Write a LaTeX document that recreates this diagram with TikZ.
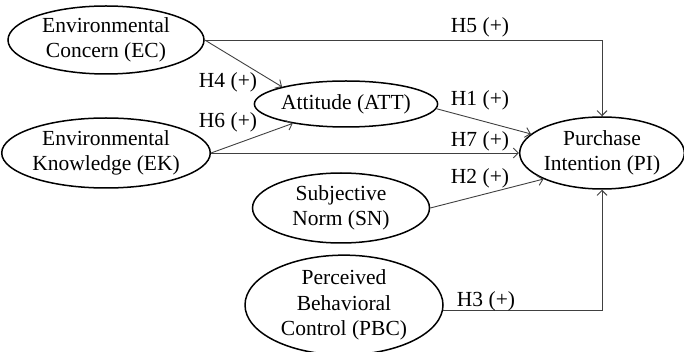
\documentclass[tikz,border=0pt]{standalone}
\usepackage{fontspec}
\setmainfont{Liberation Serif}
\usetikzlibrary{shapes.geometric,arrows.meta}
\tikzset{
  construct/.style={ellipse, draw=black, line width=1.5pt, inner sep=0pt, align=center, font=\fontsize{21.5}{25.5}\selectfont},
  hyp/.style={inner sep=0pt, font=\fontsize{21.5}{25.5}\selectfont},
  path/.style={draw=black!75, line width=0.9pt, -{Straight Barb[length=5pt,width=10pt]}}
}
\begin{document}
\begin{tikzpicture}[x=1pt,y=-1pt]
\useasboundingbox (0,0) rectangle (684,352);
\node[construct, minimum width=196pt, minimum height=68pt] (EC) at (106,40) {Environmental\\Concern (EC)};
\node[construct, minimum width=196pt, minimum height=70pt] (EK) at (106,153) {Environmental\\Knowledge (EK)};
\node[construct, minimum width=152pt, minimum height=46pt] (ATT) at (346,104) {Attitude (ATT)};
\node[construct, minimum width=162pt, minimum height=72pt] (PI) at (602,153) {Purchase\\Intention (PI)};
\node[construct, minimum width=177pt, minimum height=70pt] (SN) at (341,208) {Subjective\\Norm (SN)};
\node[construct, minimum width=198pt, minimum height=92pt] (PBC) at (344,305) {Perceived\\Behavioral\\Control (PBC)};

\draw[path] (EC.east) -| (PI.north);
\draw[path] (EC.east) -- (ATT.165);
\draw[path] (EK.east) -- (ATT.200);
\draw[path] (EK.east) -- (PI.west);
\draw[path] (ATT.-3) -- (PI.165);
\draw[path] (SN.east) -- (PI.204);
\draw[path] (PBC.-3) -| (PI.south);

\node[hyp] (h5) at (480,27) {H5 (+)};
\node[hyp] (h4) at (228,82) {H4 (+)};
\node[hyp] (h6) at (228,122) {H6 (+)};
\node[hyp] (h1) at (480,100) {H1 (+)};
\node[hyp] (h7) at (480,141) {H7 (+)};
\node[hyp] (h2) at (480,178) {H2 (+)};
\node[hyp] (h3) at (486,301) {H3 (+)};
\end{tikzpicture}
\end{document}
